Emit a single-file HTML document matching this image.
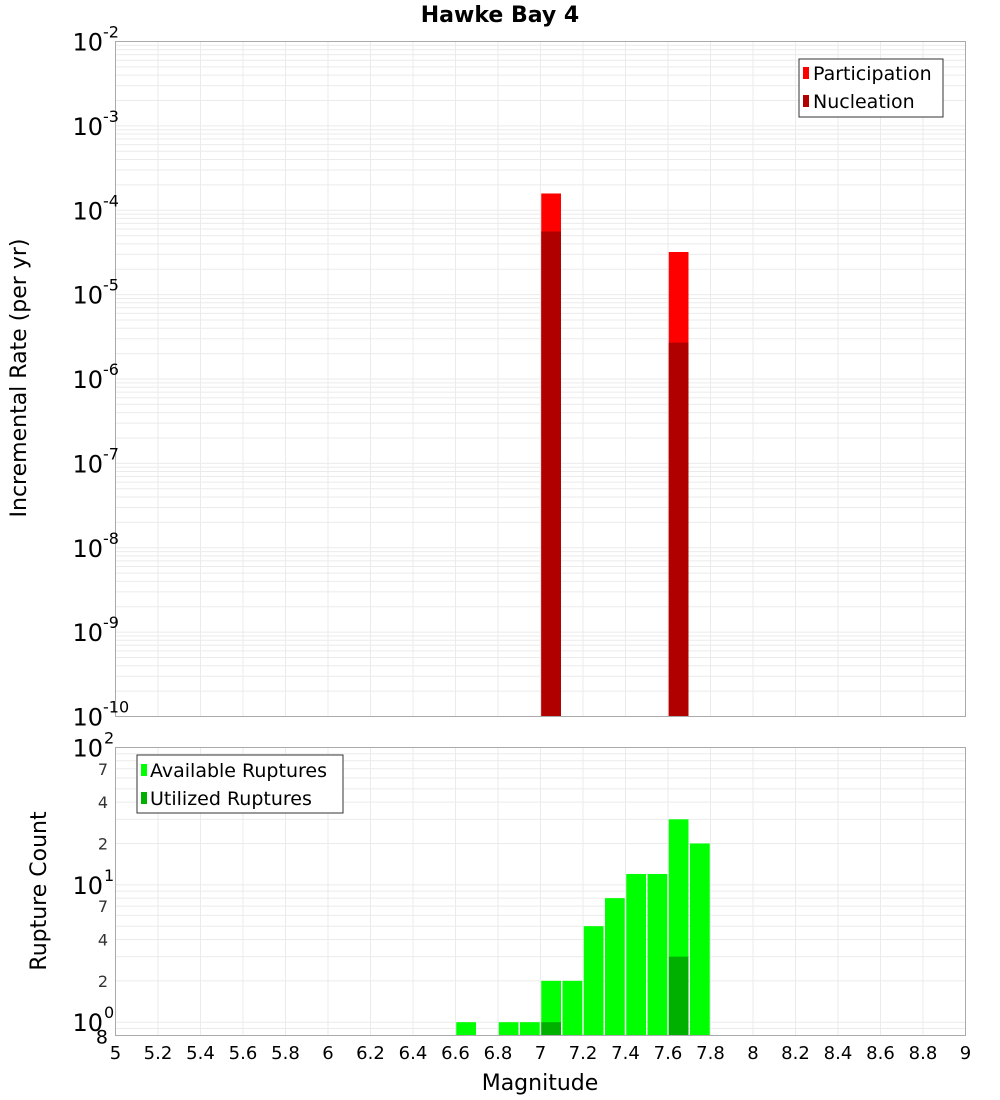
<!DOCTYPE html>
<html><head><meta charset="utf-8"><style>
body{margin:0;background:#fff;width:1000px;height:1100px;overflow:hidden}
svg{display:block;font-family:"DejaVu Sans","Liberation Sans",sans-serif}
</style></head><body>
<svg id="c" width="1000" height="1100">
<text x="500" y="22" text-anchor="middle" font-size="22" font-weight="bold">Hawke Bay 4</text>
<text transform="translate(26,378) rotate(-90)" text-anchor="middle" font-size="22">Incremental Rate (per yr)</text>
<text transform="translate(46,891) rotate(-90)" text-anchor="middle" font-size="22">Rupture Count</text>
<text x="540" y="1090" text-anchor="middle" font-size="22">Magnitude</text>
<g id="gtop"></g><g id="gbot"></g>
<g>
<rect x="799" y="59" width="144" height="58" fill="#fff" stroke="#333"/>
<rect x="803" y="67" width="6" height="12" fill="#ff0000"/><text x="813" y="80" font-size="19">Participation</text>
<rect x="803" y="95" width="6" height="12" fill="#b00000"/><text x="813" y="108" font-size="19">Nucleation</text>
</g>
<g>
<rect x="137" y="755" width="206" height="58" fill="#fff" stroke="#333"/>
<rect x="141" y="764" width="6" height="12" fill="#00ff00"/><text x="150" y="777" font-size="19">Available Ruptures</text>
<rect x="141" y="792" width="6" height="12" fill="#00b000"/><text x="150" y="805" font-size="19">Utilized Ruptures</text>
</g>
</svg>
<script>
const xTicks=[5,5.2,5.4,5.6,5.8,6,6.2,6.4,6.6,6.8,7,7.2,7.4,7.6,7.8,8,8.2,8.4,8.6,8.8,9];
const rateMags=[7.05,7.65];
const participation=[1.58e-4,3.2e-5];
const nucleation=[5.6e-5,2.7e-6];
const countMags=[6.65,6.85,6.95,7.05,7.15,7.25,7.35,7.45,7.55,7.65,7.75];
const available=[1,1,1,2,2,5,8,12,12,30,20];
const utilizedMags=[7.05,7.65];
const utilized=[1,3];
const topDecades=[-10,-9,-8,-7,-6,-5,-4,-3,-2];

const NS="http://www.w3.org/2000/svg";
const L=115.5,R=965.5;
const X=m=>L+(m-5)/4*(R-L);
const T0=41.5,T1=716.5,B0=747.5,B1=1035.5;
const YT=v=>T0+(-2-Math.log10(v))/8*(T1-T0);
const lbMin=Math.log10(0.8);
const YB=v=>B0+(2-Math.log10(v))/(2-lbMin)*(B1-B0);
function el(p,t,a){const e=document.createElementNS(NS,t);for(const k in a)e.setAttribute(k,a[k]);p.appendChild(e);return e;}
const gTop=document.getElementById('gtop'),gBot=document.getElementById('gbot');
for(let d=-10;d<-2;d++)for(let k=1;k<10;k++){const y=YT(k*Math.pow(10,d));
const g=el(gTop,'line',{x1:L,x2:R,y1:y,y2:y,stroke:'#ebebeb'});

}
for(const m of xTicks){for(const [p,a,b] of [[gTop,T0,T1],[gBot,B0,B1]]){const g=el(p,'line',{x1:X(m),x2:X(m),y1:a,y2:b,stroke:'#ebebeb'});

}}
[0.8,0.9,1,2,3,4,5,6,7,8,9,10,20,30,40,50,60,70,80,90].forEach(v=>{const y=YB(v);const g=el(gBot,'line',{x1:L,x2:R,y1:y,y2:y,stroke:'#ebebeb'});

});
const bw=(X(5.1)-X(5))-1.5;
function bar(p,m,y,base,fill,name){const r=el(p,'rect',{x:X(m)-bw/2,y:y,width:bw,height:base-y,fill:fill});

}
rateMags.forEach((m,i)=>{bar(gTop,m,YT(participation[i]),T1,'#ff0000','participation-bar');});
rateMags.forEach((m,i)=>{bar(gTop,m,YT(nucleation[i]),T1,'#b00000','nucleation-bar');});
countMags.forEach((m,i)=>{bar(gBot,m,YB(available[i]),B1,'#00ff00','available-bar');});
utilizedMags.forEach((m,i)=>{bar(gBot,m,YB(utilized[i]),B1,'#00b000','utilized-bar');});
el(gTop,'rect',{x:L,y:T0,width:R-L,height:T1-T0,fill:'none',stroke:'#aaa'});
el(gBot,'rect',{x:L,y:B0,width:R-L,height:B1-B0,fill:'none',stroke:'#aaa'});
topDecades.forEach(d=>{const y=YT(Math.pow(10,d));const t=el(gTop,'text',{x:103,y:y+9,'text-anchor':'end','font-size':24});t.textContent='10';


const s=el(gTop,'text',{x:103,y:y-4,'font-size':16});s.textContent=String(d);});
[[100,'2'],[10,'1'],[1,'0']].forEach(([v,e])=>{const y=YB(v);const t=el(gBot,'text',{x:103,y:y+9,'text-anchor':'end','font-size':24});t.textContent='10';


const s=el(gBot,'text',{x:104,y:y-4,'font-size':16});s.textContent=e;});
[70,40,20,7,4,2].forEach(v=>{const t=el(gBot,'text',{x:108,y:YB(v)+6,'text-anchor':'end','font-size':16,fill:'#333'});t.textContent=String(v>=10?v/10:v);

});
{const t=el(gBot,'text',{x:108,y:B1+8,'text-anchor':'end','font-size':19});t.textContent='8';}
xTicks.forEach(m=>{const t=el(gBot,'text',{x:X(m),y:1059,'text-anchor':'middle','font-size':18});t.textContent=String(m);

});
</script>
</body></html>
